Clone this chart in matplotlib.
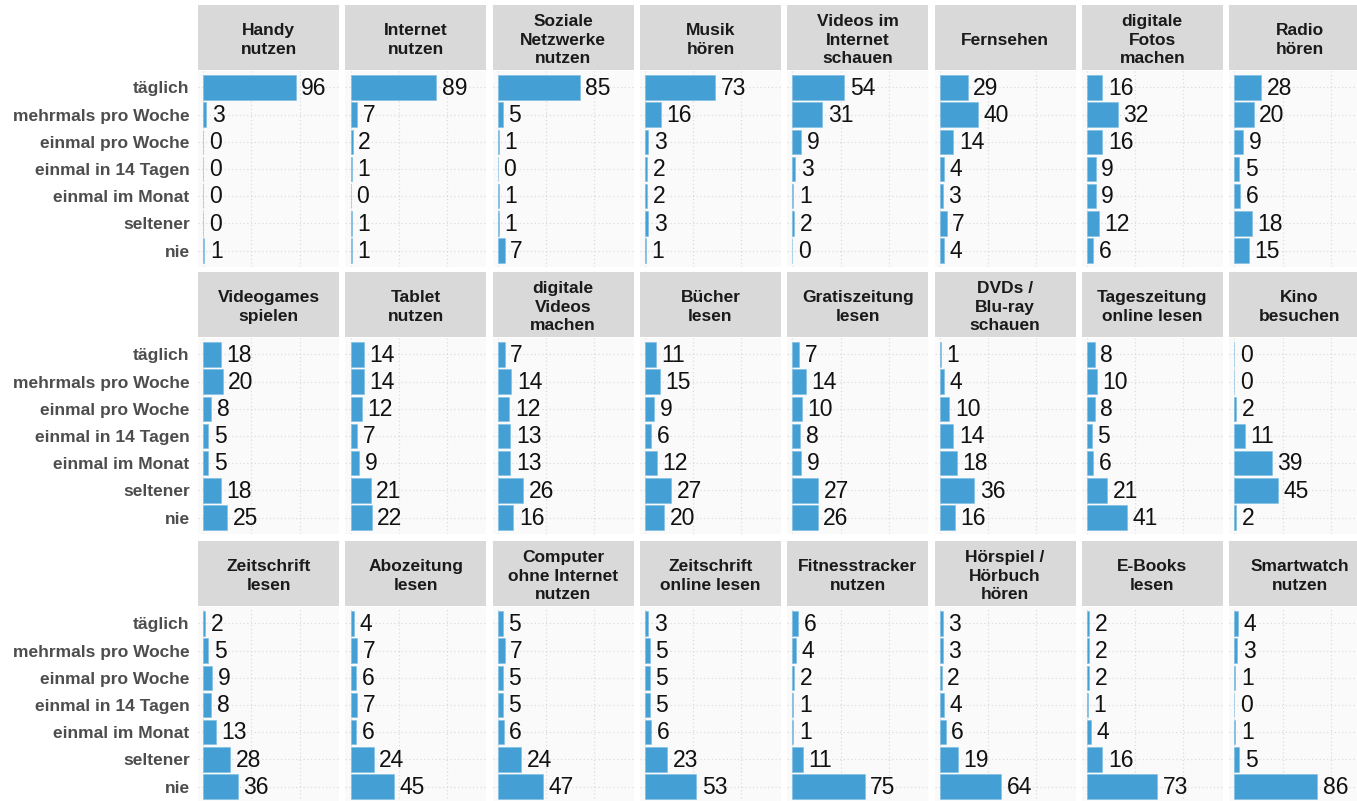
import matplotlib
matplotlib.use("Agg")
import matplotlib.pyplot as plt

plt.rcParams['font.family'] = ['Liberation Sans', 'DejaVu Sans']

# Kategorien (Häufigkeit)
kategorien = ["täglich", "mehrmals pro Woche", "einmal pro Woche", "einmal in 14 Tagen",
              "einmal im Monat", "seltener", "nie"]

# Titel der Panels, zeilenweise
titel = [
    "Handy\nnutzen", "Internet\nnutzen", "Soziale\nNetzwerke\nnutzen", "Musik\nhören",
    "Videos im\nInternet\nschauen", "Fernsehen", "digitale\nFotos\nmachen", "Radio\nhören",
    "Videogames\nspielen", "Tablet\nnutzen", "digitale\nVideos\nmachen", "Bücher\nlesen",
    "Gratiszeitung\nlesen", "DVDs /\nBlu-ray\nschauen", "Tageszeitung\nonline lesen", "Kino\nbesuchen",
    "Zeitschrift\nlesen", "Abozeitung\nlesen", "Computer\nohne Internet\nnutzen", "Zeitschrift\nonline lesen",
    "Fitnesstracker\nnutzen", "Hörspiel /\nHörbuch\nhören", "E-Books\nlesen", "Smartwatch\nnutzen",
]

# Prozentwerte je Panel (täglich ... nie)
handy = [96, 3, 0, 0, 0, 0, 1]
internet = [89, 7, 2, 1, 0, 1, 1]
soziale = [85, 5, 1, 0, 1, 1, 7]
musik = [73, 16, 3, 2, 2, 3, 1]
videos_internet = [54, 31, 9, 3, 1, 2, 0]
fernsehen = [29, 40, 14, 4, 3, 7, 4]
fotos = [16, 32, 16, 9, 9, 12, 6]
radio = [28, 20, 9, 5, 6, 18, 15]

videogames = [18, 20, 8, 5, 5, 18, 25]
tablet = [14, 14, 12, 7, 9, 21, 22]
dig_videos = [7, 14, 12, 13, 13, 26, 16]
buecher = [11, 15, 9, 6, 12, 27, 20]
gratiszeitung = [7, 14, 10, 8, 9, 27, 26]
dvds = [1, 4, 10, 14, 18, 36, 16]
tageszeitung_online = [8, 10, 8, 5, 6, 21, 41]
kino = [0, 0, 2, 11, 39, 45, 2]

zeitschrift = [2, 5, 9, 8, 13, 28, 36]
abozeitung = [4, 7, 6, 7, 6, 24, 45]
computer = [5, 7, 5, 5, 6, 24, 47]
zeitschrift_online = [3, 5, 5, 5, 6, 23, 53]
fitnesstracker = [6, 4, 2, 1, 1, 11, 75]
hoerspiel = [3, 3, 2, 4, 6, 19, 64]
ebooks = [2, 2, 2, 1, 4, 16, 73]
smartwatch = [4, 3, 1, 0, 1, 5, 86]

werte = [handy, internet, soziale, musik, videos_internet, fernsehen, fotos, radio,
         videogames, tablet, dig_videos, buecher, gratiszeitung, dvds, tageszeitung_online, kino,
         zeitschrift, abozeitung, computer, zeitschrift_online, fitnesstracker, hoerspiel, ebooks, smartwatch]

W, H = 1357, 801
fig = plt.figure(figsize=(W / 100, H / 100), dpi=100)

col_left = 198
col_step = 147.3
col_w = 141
row_tops = [5, 272, 541]
head_h = 65
panel_h = 196

bar_col = '#439fd4'
y_pos = list(range(len(kategorien)))

for i, (t, vals) in enumerate(zip(titel, werte)):
    r, c = divmod(i, 8)
    x0 = col_left + c * col_step
    top = row_tops[r]
    # Kopfzeile
    hx = fig.add_axes([x0 / W, 1 - (top + head_h) / H, col_w / W, head_h / H])
    hx.set_facecolor('#d9d9d9')
    hx.set_xticks([]); hx.set_yticks([])
    for s in hx.spines.values():
        s.set_visible(False)
    hx.text(0.5, 0.46, t, ha='center', va='center', fontsize=12.5, fontweight='bold',
            color='#1a1a1a', linespacing=1.3, transform=hx.transAxes)

    # Panel
    ax = fig.add_axes([x0 / W, 1 - (top + head_h + 1 + panel_h) / H, col_w / W, panel_h / H])
    ax.set_facecolor('#fafafa')
    ax.barh(y_pos, vals, height=0.9, color=bar_col, edgecolor='#7cbde3', linewidth=0.4, zorder=2)
    for y, v in zip(y_pos, vals):
        ax.annotate(str(v), (v, y), xytext=(4, -0.5), textcoords='offset points',
                    ha='left', va='center', fontsize=16.5, color='#111111', zorder=3)
    ax.set_xlim(-5.5, 141)
    ax.set_ylim(len(kategorien) - 0.4, -0.6)
    ax.set_xticks([0, 50, 100])
    ax.set_yticks(y_pos)
    ax.grid(True, color='#dcdcdc', linestyle=(0, (1, 2)), linewidth=0.9, zorder=0)
    ax.set_axisbelow(True)
    ax.tick_params(length=0, labelbottom=False)
    if c == 0:
        ax.set_yticklabels(kategorien, fontsize=12.5, fontweight='bold', color='#4d4d4d')
        ax.tick_params(axis='y', pad=6)
    else:
        ax.set_yticklabels([])
    for s in ax.spines.values():
        s.set_visible(False)

fig.savefig('out.png', dpi=100, facecolor='white')
